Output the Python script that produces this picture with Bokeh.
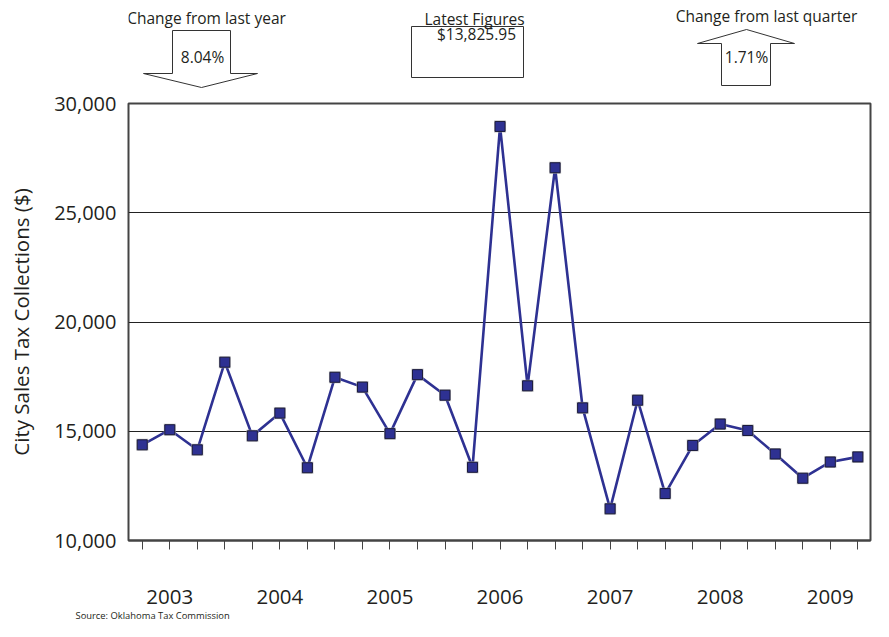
from bokeh.plotting import figure
from bokeh.models import Range1d, FixedTicker, NumeralTickFormatter, Title
from bokeh.layouts import column
from bokeh.core.properties import value
from bokeh.embed import file_html
from bokeh.resources import INLINE

# ---------------- data ----------------
years = ["2003", "2004", "2005", "2006", "2007", "2008", "2009"]
collections = [14380, 15070, 14150, 18160, 14790, 15830, 13330,
               17470, 17020, 14890, 17590, 16650, 13350,
               28950, 17080, 27060, 16070, 11450, 16420, 12150,
               14350, 15330, 15035, 13960, 12850, 13593, 13826]
y_ticks = [10000, 15000, 20000, 25000, 30000]
y_title = "City Sales Tax Collections ($)"
title_year = "Change from last year"
title_latest = "Latest Figures"
title_quarter = "Change from last quarter"
change_year = "8.04%"
latest_figure = "$13,825.95"
change_quarter = "1.71%"
source_note = "Source: Oklahoma Tax Commission"

FONT = "Open Sans"
INK = "#231f20"
BLUE = "#2e3192"
W = 873
LEFT, RIGHT = 128, 3
HDR_H = 88

quarters = list(range(len(collections)))
year_pos = [1 + 4 * k for k in range(len(years))]

# ---------------- header (frame aligned with chart frame, 1 unit = 1 px) ----------------
hdr = figure(width=W, height=HDR_H, x_range=Range1d(LEFT, W - RIGHT), y_range=Range1d(HDR_H, 0),
             output_backend="svg", toolbar_location=None,
             min_border_left=LEFT, min_border_right=RIGHT, min_border_top=0, min_border_bottom=0,
             x_axis_type=None, y_axis_type=None)
hdr.grid.visible = False
hdr.outline_line_color = None

hdr.patch([172, 230, 230, 257, 201, 143, 172], [30, 30, 73, 73, 87, 73, 73],
          fill_color="white", line_color="#333333", line_width=1)
hdr.patch([721, 770, 770, 794, 746, 697, 721], [85, 85, 43, 43, 29, 43, 43],
          fill_color="white", line_color="#333333", line_width=1)
hdr.quad(left=[411], right=[523], top=[26], bottom=[77],
         fill_color="white", line_color="#333333", line_width=1)

def htext(x, y, t):
    hdr.text(x=[x], y=[y], text=[t], text_font=value(FONT), text_font_size=value("15.5px"),
             text_color=INK, text_align="center", text_baseline="middle")

htext(206, 17, title_year)
htext(202, 56, change_year)
htext(474, 18, title_latest)
htext(476, 33, latest_figure)
htext(766, 15, title_quarter)
htext(746, 56, change_quarter)

# ---------------- main chart ----------------
p = figure(width=W, height=621 - HDR_H, x_range=Range1d(-0.5, 26.46), y_range=Range1d(10000, 30000),
           output_backend="svg", toolbar_location=None,
           min_border_left=LEFT, min_border_right=RIGHT, min_border_top=103 - HDR_H,
           min_border_bottom=80)
p.outline_line_color = "#444444"
p.outline_line_width = 2
p.xgrid.visible = False
p.ygrid.ticker = FixedTicker(ticks=y_ticks)
p.ygrid.grid_line_color = "#222222"
p.ygrid.grid_line_width = 1

p.yaxis.ticker = FixedTicker(ticks=y_ticks)
p.yaxis.formatter = NumeralTickFormatter(format="0,0")
p.yaxis.major_tick_line_color = None
p.yaxis.minor_tick_line_color = None
p.yaxis.axis_line_color = None
p.yaxis.major_tick_out = 0
p.yaxis.major_label_standoff = 12
p.yaxis.major_label_text_font = FONT
p.yaxis.major_label_text_font_size = "20px"
p.yaxis.major_label_text_color = INK
p.yaxis.axis_label = y_title
p.yaxis.axis_label_text_font = FONT
p.yaxis.axis_label_text_font_size = "20.5px"
p.yaxis.axis_label_text_font_style = "normal"
p.yaxis.axis_label_text_color = INK
p.yaxis.axis_label_standoff = 16

overrides = {q: "" for q in quarters}
for pos, yr in zip(year_pos, years):
    overrides[pos] = yr
p.xaxis.ticker = FixedTicker(ticks=quarters)
p.xaxis.major_label_overrides = overrides
p.xaxis.major_tick_out = 9
p.xaxis.major_tick_in = 0
p.xaxis.major_tick_line_color = "#444444"
p.xaxis.major_tick_line_width = 1
p.xaxis.minor_tick_line_color = None
p.xaxis.axis_line_color = "#444444"
p.xaxis.axis_line_width = 2
p.xaxis.major_label_standoff = 40
p.xaxis.major_label_text_font = FONT
p.xaxis.major_label_text_font_size = "20.5px"
p.xaxis.major_label_text_color = INK

p.add_layout(Title(text=source_note, align="left", offset=-53, standoff=0,
                   text_font=FONT, text_font_size="9.4px", text_font_style="normal",
                   text_color=INK), "below")

p.line(quarters, collections, line_color=BLUE, line_width=2.6)
p.scatter(quarters, collections, marker="square", size=12, fill_color="#b0b0b0",
          line_color=None, alpha=0.8)
p.scatter(quarters, collections, marker="square", size=10, fill_color=BLUE,
          line_color="#1a1a3a", line_width=1)

layout = column(hdr, p, spacing=0)
open("out.html", "w").write(file_html(layout, INLINE))
